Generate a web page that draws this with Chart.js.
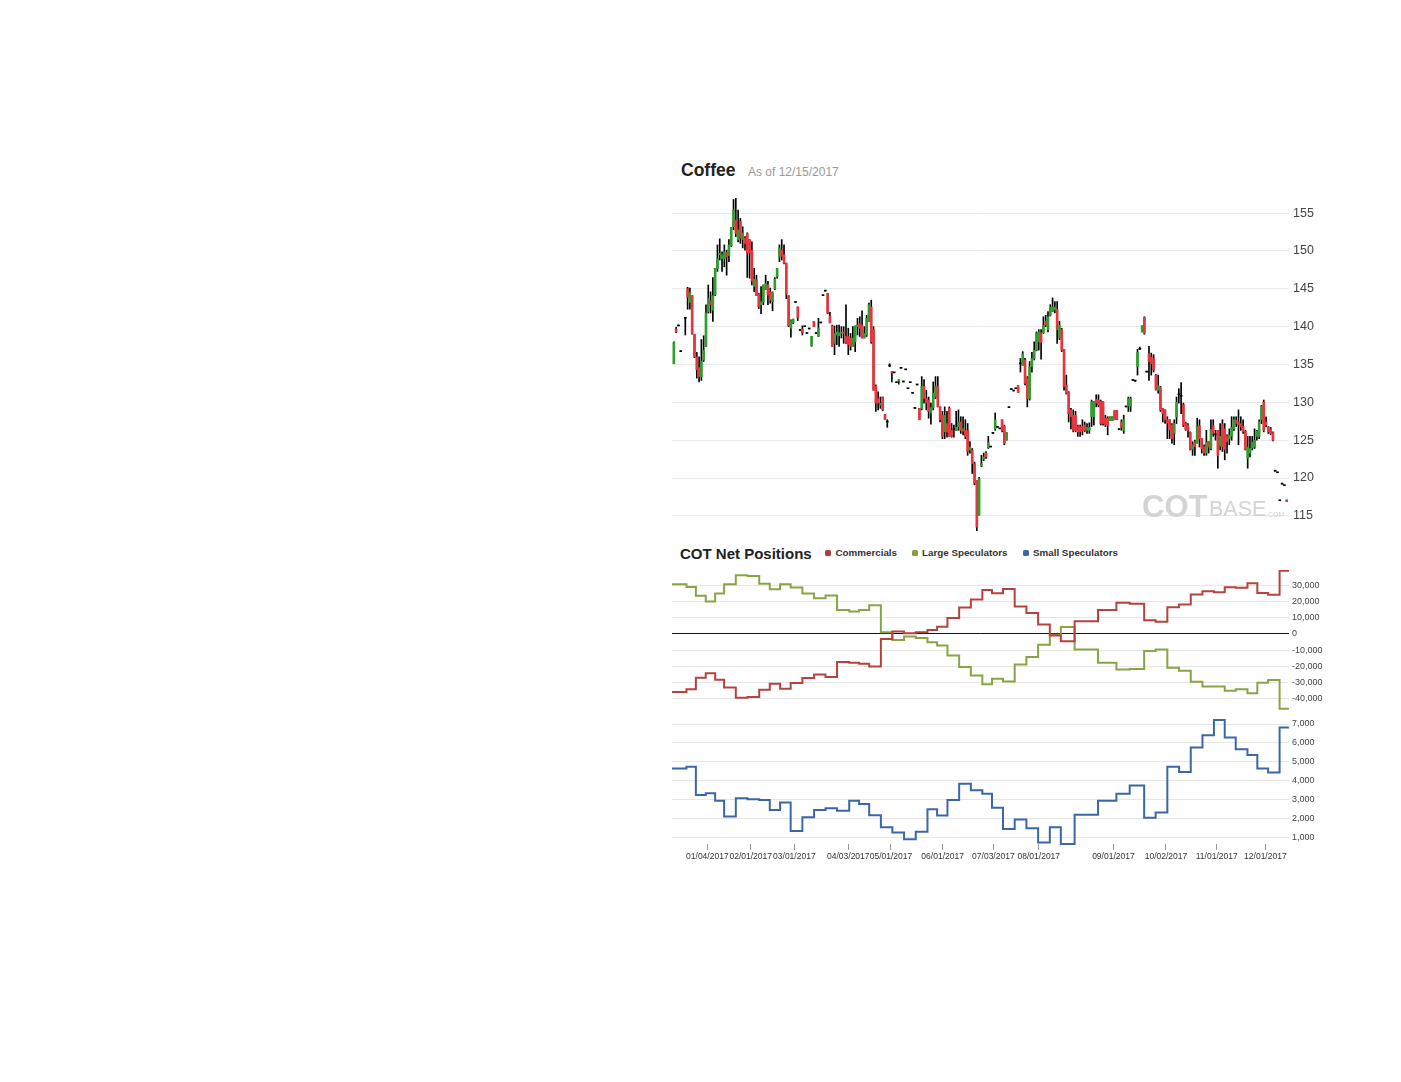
<!DOCTYPE html>
<html>
<head>
<meta charset="utf-8">
<title>Coffee - COT Net Positions</title>
<script src="https://cdn.jsdelivr.net/npm/chart.js@4.4.1/dist/chart.umd.min.js"></script>
<style>
  body { margin: 0; background: #fff; font-family: "Liberation Sans", Arial, sans-serif; }
  #page { position: relative; width: 1401px; height: 1082px; overflow: hidden; }
  .abs { position: absolute; white-space: nowrap; }
  .title { font-weight: bold; font-size: 17.5px; line-height: 17.5px; color: #222; }
  .asof { font-size: 12px; line-height: 12px; color: #999; }
  .subtitle { font-weight: bold; font-size: 15px; line-height: 15px; color: #222; }
  .legend { font-weight: bold; font-size: 9.8px; line-height: 9.8px; color: #333; }
  .swatch { width: 6px; height: 6px; border-radius: 1.5px; }
  .mark { color: #d4d4d4; }
</style>
</head>
<body>
<div id="page">
  <div class="abs title" style="left:681px; top:162px;">Coffee</div>
  <div class="abs asof" style="left:748px; top:166px;">As of 12/15/2017</div>

  <canvas id="priceChart" class="abs" width="660" height="333" style="left:672px; top:198px;"></canvas>

  <div class="abs mark" style="left:1142px; top:491px; font-weight:bold; font-size:31px; line-height:31px;">COT</div>
  <div class="abs mark" style="left:1209px; top:499px; font-size:21.5px; line-height:21.5px;">BASE</div>
  <div class="abs mark" style="left:1266px; top:511px; font-size:7px; line-height:7px;">.COM</div>

  <div class="abs subtitle" style="left:680px; top:546px;">COT Net Positions</div>
  <div class="abs swatch" style="left:825px; top:550px; background:#b03c3c;"></div>
  <div class="abs legend" style="left:835.5px; top:548.2px;">Commercials</div>
  <div class="abs swatch" style="left:911.5px; top:550px; background:#8a9e48;"></div>
  <div class="abs legend" style="left:922px; top:548.2px;">Large Speculators</div>
  <div class="abs swatch" style="left:1023px; top:550px; background:#3e68a6;"></div>
  <div class="abs legend" style="left:1033px; top:548.2px;">Small Speculators</div>

  <canvas id="cotChart" class="abs" width="660" height="140" style="left:672px; top:570px;"></canvas>
  <canvas id="smallChart" class="abs" width="660" height="145" style="left:672px; top:719px;"></canvas>
</div>

<script>
// daily coffee candles, one entry per trading day (null = no candle)
var candleOpen = [
  135.1, 139.7, 140.1, 136.7, null, 141.1, 145.0, 143.2, 144.1, 139.0,
  136.0, 134.6, 133.4, 135.6, 137.4, 142.0, 143.4, 142.2, 144.2, 147.7,
  149.5, 149.0, 149.0, 149.8, 149.4, 150.7, 153.2, 154.1, 151.5, 153.9,
  151.5, 151.7, 152.3, 151.5, 150.1, 145.3, 146.2, 144.3, 142.9, 143.3,
  144.9, 145.5, 144.6, 143.3, 145.0, 146.6, 149.2, 150.1, 149.5, 148.4,
  144.1, 139.8, 140.5, 143.2, 142.6, 139.5, 139.7, 140.0, 139.1, 139.7,
  137.5, 140.7, 139.1, 138.7, 140.5, 144.1, 144.7, 144.4, 141.4, 140.1,
  137.8, 138.9, 138.8, 139.1, 139.3, 138.7, 138.7, 138.5, 137.4, 138.0,
  140.0, 140.4, 140.2, 138.5, 138.9, 140.7, 142.6, 139.6, 132.1, 130.5,
  129.6, 130.7, 128.4, 127.4, 134.8, 134.1, 133.9, 132.6, 132.8, 134.5,
  132.7, 134.3, 131.8, 132.6, 131.2, 129.2, 132.3, 129.2, 129.2, 132.1,
  130.5, 130.3, 128.6, 129.3, 130.7, 132.1, 129.4, 128.3, 126.1, 127.2,
  129.2, 126.3, 126.4, 126.3, 126.8, 127.4, 126.2, 126.3, 126.3, 123.7,
  123.7, 121.9, 119.7, 115.1, 121.6, 122.5, 123.3, 124.0, 124.1, 125.9,
  126.5, 126.7, 126.5, 127.7, 126.8, 125.0, 129.3, 131.7, 131.5, 131.8,
  132.2, 135.1, 134.9, 135.6, 133.2, 130.5, 134.7, 135.8, 136.9, 138.0,
  139.2, 139.2, 140.7, 139.6, 141.5, 142.0, 142.2, 142.3, 138.5, 139.6,
  137.0, 132.3, 131.4, 129.0, 128.3, 128.3, 126.8, 126.8, 126.8, 127.0,
  126.3, 126.3, 128.1, 128.1, 130.4, 130.3, 130.1, 130.1, 127.9, 127.9,
  127.6, 127.6, 128.9, 128.9, 126.4, 127.4, 126.3, 129.4, 129.5, 129.5,
  132.9, 132.8, 134.7, 137.0, 139.3, 141.2, 134.0, 136.4, 136.0, 135.8,
  133.6, 131.6, 132.0, 129.2, 129.0, 127.7, 127.7, 127.0, 125.9, 128.1,
  131.0, 130.8, 129.7, 127.2, 127.0, 126.0, 123.8, 124.8, 124.6, 126.9,
  125.2, 124.1, 123.3, 124.8, 123.9, 126.9, 125.7, 126.3, 124.2, 127.1,
  126.5, 125.5, 125.2, 125.5, 126.5, 127.6, 127.4, 127.2, 126.8, 126.2,
  122.6, 123.3, 124.0, 124.1, 125.5, 125.5, 127.7, 130.0, 127.4, 126.7,
  126.5, 126.0, 120.9, 120.7, 117.0, 119.2, 119.0, 117.1
];
var candleHigh = [
  138.0, 139.9, 140.2, 136.8, null, 141.1, 145.2, 145.1, 144.1, 139.0,
  136.6, 136.0, 138.3, 138.8, 142.9, 145.5, 144.6, 146.5, 147.7, 150.8,
  151.6, 149.9, 150.8, 150.1, 151.5, 153.1, 156.8, 157.0, 155.4, 154.3,
  153.2, 151.9, 152.4, 151.5, 151.2, 147.7, 146.8, 144.4, 145.3, 145.5,
  146.8, 146.0, 145.1, 144.6, 146.5, 147.7, 150.8, 151.5, 150.8, 148.4,
  144.1, 140.9, 141.0, 143.2, 142.6, 139.5, 140.1, 140.0, 139.1, 139.7,
  138.7, 140.7, 139.1, 141.1, 140.5, 144.1, 144.7, 144.4, 141.9, 140.2,
  140.1, 140.2, 140.2, 140.0, 140.0, 142.9, 139.8, 139.1, 140.0, 140.1,
  141.1, 141.3, 142.1, 140.0, 141.5, 143.1, 143.5, 140.0, 132.3, 131.4,
  130.7, 130.7, 128.4, 127.7, 135.1, 134.1, 133.9, 132.6, 133.0, 134.5,
  132.7, 134.3, 131.8, 132.6, 131.2, 129.2, 132.3, 129.2, 133.4, 133.0,
  131.6, 130.7, 129.9, 132.7, 133.4, 133.4, 129.4, 128.8, 129.4, 128.8,
  129.4, 127.2, 127.0, 128.8, 129.0, 128.1, 128.1, 127.7, 127.2, 124.8,
  123.9, 122.1, 119.7, 120.1, 123.0, 123.3, 123.5, 125.5, 124.1, 125.9,
  128.6, 126.7, 126.5, 127.7, 127.0, 126.0, 129.3, 131.7, 131.5, 131.8,
  132.2, 135.8, 136.7, 135.8, 133.4, 135.4, 136.6, 138.0, 139.3, 139.6,
  139.6, 141.3, 141.5, 142.0, 142.9, 143.8, 143.3, 143.3, 140.7, 139.8,
  137.0, 133.6, 131.4, 129.2, 129.0, 128.8, 127.0, 127.0, 127.7, 127.4,
  127.2, 127.3, 130.3, 130.1, 131.0, 131.0, 130.3, 130.1, 128.3, 128.1,
  128.1, 128.1, 128.9, 128.9, 126.4, 127.7, 128.3, 129.4, 130.7, 130.7,
  132.9, 132.8, 137.0, 137.3, 140.1, 141.3, 134.0, 137.4, 136.5, 136.3,
  133.7, 133.6, 132.1, 129.2, 129.0, 128.1, 127.7, 127.2, 127.7, 130.7,
  131.8, 132.6, 129.9, 127.4, 127.2, 126.1, 124.8, 125.0, 127.9, 127.7,
  125.2, 124.4, 126.3, 124.8, 127.7, 127.7, 126.3, 126.3, 127.2, 127.7,
  127.2, 125.7, 126.5, 128.1, 128.1, 128.1, 129.0, 128.1, 127.7, 126.3,
  125.5, 125.5, 125.5, 126.5, 126.3, 127.7, 129.6, 130.3, 128.1, 126.8,
  126.7, 126.1, 120.9, 120.7, 117.0, 119.2, 119.0, 117.1
];
var candleLow = [
  135.1, 139.2, 140.1, 136.7, null, 138.9, 142.3, 142.3, 139.0, 135.9,
  133.2, 132.7, 132.9, 135.4, 137.4, 141.8, 141.8, 140.7, 144.1, 147.3,
  148.8, 147.3, 147.9, 146.8, 148.6, 150.6, 152.8, 151.9, 151.2, 151.0,
  150.4, 150.1, 146.5, 146.4, 145.5, 144.6, 144.1, 142.4, 141.7, 142.9,
  144.9, 142.9, 143.1, 142.1, 144.9, 146.4, 148.6, 148.8, 148.3, 143.7,
  140.0, 138.6, 140.4, 143.2, 140.8, 139.5, 138.9, 140.0, 139.1, 139.7,
  137.4, 140.0, 139.1, 138.7, 140.5, 144.1, 144.7, 141.7, 140.5, 137.4,
  136.3, 137.6, 137.4, 138.5, 137.8, 137.8, 136.3, 136.9, 137.4, 136.7,
  138.9, 138.7, 138.5, 138.5, 138.7, 140.7, 137.8, 131.6, 128.8, 129.0,
  129.2, 128.9, 127.7, 126.7, 134.7, 132.7, 133.9, 132.6, 132.4, 134.5,
  132.7, 134.3, 131.8, 132.6, 131.2, 129.2, 132.3, 127.7, 129.0, 129.9,
  129.0, 127.9, 127.1, 129.0, 130.5, 129.4, 127.4, 125.2, 125.2, 125.4,
  125.5, 125.4, 125.4, 126.3, 126.3, 125.9, 125.7, 125.2, 123.0, 123.3,
  120.6, 119.1, 112.9, 115.1, 121.5, 122.3, 122.6, 123.9, 124.1, 125.9,
  126.3, 126.7, 126.5, 126.1, 124.4, 125.0, 129.3, 131.7, 131.5, 131.8,
  131.3, 134.0, 134.9, 132.3, 129.4, 130.3, 134.0, 135.6, 136.8, 136.9,
  135.7, 139.1, 140.0, 139.3, 141.4, 142.0, 141.8, 137.8, 138.3, 136.7,
  131.6, 131.1, 127.4, 126.5, 126.1, 126.1, 125.5, 125.5, 125.7, 126.1,
  125.9, 125.9, 126.8, 127.0, 129.4, 129.4, 127.0, 127.0, 126.8, 125.7,
  127.6, 127.6, 127.7, 127.7, 126.4, 126.3, 125.9, 129.4, 128.8, 128.8,
  132.9, 132.8, 133.6, 137.0, 139.3, 139.0, 134.0, 132.9, 133.6, 134.0,
  131.6, 131.2, 128.8, 127.4, 127.2, 125.2, 125.2, 124.6, 124.4, 127.2,
  129.9, 128.5, 126.8, 126.3, 125.4, 123.7, 123.0, 123.0, 124.6, 124.1,
  123.3, 123.0, 123.0, 123.3, 123.7, 125.5, 125.0, 121.3, 123.7, 123.5,
  122.4, 123.3, 124.4, 125.0, 126.3, 126.8, 124.4, 126.3, 125.9, 123.7,
  121.3, 122.8, 123.7, 123.9, 125.0, 125.2, 127.2, 126.1, 126.8, 125.9,
  125.7, 124.9, 120.9, 120.7, 117.0, 119.2, 119.0, 116.9
];
var candleClose = [
  137.9, 139.3, 140.1, 136.7, null, 141.1, 143.9, 144.5, 139.1, 136.0,
  134.3, 133.4, 135.4, 136.9, 141.8, 143.7, 142.9, 144.1, 147.7, 149.0,
  149.7, 149.5, 149.9, 149.2, 150.8, 153.1, 155.4, 152.3, 152.8, 151.7,
  152.4, 151.0, 149.7, 149.7, 146.0, 146.3, 144.1, 142.6, 143.3, 145.5,
  145.7, 144.2, 143.5, 144.5, 146.3, 147.7, 150.4, 149.3, 148.4, 144.3,
  140.1, 140.8, 141.0, 143.2, 141.2, 139.5, 139.2, 140.0, 139.1, 139.7,
  138.7, 140.0, 139.1, 139.8, 140.5, 144.1, 144.7, 141.8, 140.5, 137.4,
  139.1, 139.3, 139.2, 139.3, 139.1, 137.9, 137.6, 137.4, 138.5, 140.1,
  140.2, 139.8, 138.5, 139.1, 141.1, 142.9, 138.0, 131.6, 129.9, 129.9,
  129.9, 129.0, 127.7, 127.4, 134.8, 133.9, 133.9, 132.6, 133.0, 134.5,
  132.7, 134.3, 131.8, 132.6, 131.2, 129.2, 132.3, 127.7, 132.1, 130.5,
  129.9, 128.8, 129.3, 131.2, 132.1, 129.4, 127.7, 125.5, 128.3, 126.1,
  125.5, 125.5, 126.4, 126.7, 127.4, 126.3, 126.5, 125.5, 123.5, 124.1,
  121.9, 119.3, 113.5, 119.9, 121.9, 122.8, 122.8, 124.7, 124.1, 125.9,
  127.7, 126.7, 126.5, 126.3, 124.6, 126.0, 129.3, 131.7, 131.5, 131.8,
  131.3, 135.1, 136.4, 132.5, 130.5, 134.7, 135.8, 136.9, 139.1, 139.3,
  137.9, 140.2, 140.2, 141.3, 142.6, 142.6, 142.6, 139.6, 140.2, 136.9,
  132.1, 131.2, 128.5, 128.1, 126.3, 126.3, 126.1, 126.1, 126.2, 126.3,
  126.7, 126.7, 130.1, 130.0, 129.9, 129.6, 127.2, 127.2, 127.0, 127.0,
  128.1, 128.1, 127.7, 127.7, 126.4, 126.7, 127.7, 129.4, 130.5, 130.5,
  132.9, 132.8, 136.6, 137.0, 140.1, 139.1, 134.0, 135.4, 135.1, 134.3,
  131.7, 132.2, 129.0, 128.5, 127.7, 127.3, 126.3, 125.2, 127.2, 130.0,
  131.0, 130.8, 127.0, 126.4, 126.3, 123.8, 124.4, 124.1, 126.8, 125.2,
  123.9, 123.3, 124.7, 124.1, 126.4, 125.9, 125.7, 123.0, 125.5, 124.1,
  123.8, 124.8, 125.7, 126.7, 127.7, 127.2, 127.0, 126.8, 126.1, 123.8,
  124.1, 123.9, 124.7, 125.0, 126.2, 127.4, 129.5, 126.3, 127.0, 126.1,
  125.9, 125.0, 120.9, 120.7, 117.0, 119.2, 119.0, 116.9
];
var priceTicks = [115, 120, 125, 130, 135, 140, 145, 150, 155];

// weekly COT reports, x = trading day index where the report value starts
var cotWeek = [
  -0.8, 5.5, 9.6, 13.9, 18.0, 21.9, 27.0, 32.1, 37.2, 41.8,
  46.3, 50.9, 56.0, 61.1, 66.1, 71.1, 76.4, 80.7, 85.1, 90.2,
  95.2, 100.3, 105.4, 110.5, 114.7, 119.2, 124.3, 129.4, 134.4, 138.6,
  143.4, 148.5, 153.6, 158.7, 163.8, 168.6, 174.6, 184.8, 192.8, 198.6,
  204.9, 209.9, 215.0, 220.1, 225.2, 230.3, 235.3, 240.0, 244.8, 249.9,
  254.2, 258.9, 263.9, 268
];
var commercials = [
  -35700, -34100, -26900, -24100, -28200, -33000, -39200, -38800, -34300, -30600,
  -33700, -30200, -27100, -24900, -26500, -17300, -17700, -18400, -20000, -3100,
  1600, 400, 1000, 2400, 4500, 9800, 16300, 21200, 27100, 25100,
  27700, 16900, 12900, 5900, -1000, -4500, 7800, 14700, 19200, 18600,
  8400, 7500, 16500, 18200, 24300, 26300, 25700, 28800, 28400, 31200,
  25300, 24100, 39000, 39000
];
var largeSpecs = [
  30600, 29000, 23500, 20000, 24900, 30600, 36100, 35700, 31000, 27500,
  30600, 28600, 24900, 22000, 23700, 14700, 13900, 14700, 17700, 1000,
  -3700, -1600, -2400, -5100, -7100, -13300, -20400, -25500, -31000, -27500,
  -29200, -18800, -14100, -6700, -400, 4300, -9600, -17700, -21800, -21600,
  -10400, -9600, -20800, -22600, -29400, -32400, -32400, -34900, -34100, -36500,
  -30000, -28400, -46100, -46100
];
var smallSpecs = [
  4650, 4740, 3240, 3330, 2940, 2100, 3070, 3010, 2980, 2450,
  2840, 1340, 2060, 2450, 2540, 2410, 2930, 2770, 2170, 1530,
  1250, 900, 1290, 2480, 2150, 2980, 3830, 3490, 3300, 2560,
  1440, 1940, 1480, 720, 1530, 650, 2190, 2940, 3300, 3740,
  2040, 2310, 4740, 4460, 5750, 6400, 7210, 6290, 5660, 5360,
  4640, 4430, 6820, 6820
];
var cotTicks = [-40000, -30000, -20000, -10000, 0, 10000, 20000, 30000];
var smallTicks = [1000, 2000, 3000, 4000, 5000, 6000, 7000];

// month labels along the bottom axis
var monthTicks = [14.6, 33.5, 52.5, 76, 94.6, 117.1, 139.2, 159, 191.5, 214.4, 236.5, 257.7];
var monthLabels = ["01/04/2017", "02/01/2017", "03/01/2017", "04/03/2017", "05/01/2017", "06/01/2017",
  "07/03/2017", "08/01/2017", "09/01/2017", "10/02/2017", "11/01/2017", "12/01/2017"];

var xMin = -0.8;
var xMax = 268;
var upColor = "#2f9e2f";
var downColor = "#e8343c";

Chart.defaults.font.family = '"Liberation Sans", Arial, sans-serif';
Chart.defaults.color = "#444";

var wickData = [];
var bodyData = [];
var bodyColors = [];
candleOpen.forEach(function(o, i) {
  if (o === null) return;
  var c = candleClose[i];
  wickData.push({ x: i, y: [candleLow[i], candleHigh[i]] });
  bodyData.push({ x: i, y: [o, c] });
  bodyColors.push(c > o ? upColor : c < o ? downColor : "#000");
});

var stepSeries = function(values) {
  return cotWeek.map(function(x, i) {
    return { x: x, y: values[i] };
  });
};

// y axis on the right, same width on every panel so plots line up
var fixRightAxis = function(scale) {
  scale.width = 43;
  scale.paddingTop = 0;
  scale.paddingBottom = 0;
};

var setTicks = function(list) {
  return function(scale) {
    scale.ticks = list.map(function(v) { return { value: v }; });
  };
};

var fmt = function(v) {
  return v.toLocaleString("en-US");
};

var hiddenX = { type: "linear", min: xMin, max: xMax, offset: false, display: false };
var noPlugins = { legend: { display: false }, tooltip: { enabled: false } };

var priceChart = new Chart(document.getElementById("priceChart"), {
  type: "bar",
  data: {
    datasets: [
      {
        label: "Body",
        data: bodyData,
        backgroundColor: bodyColors,
        borderWidth: 0,
        barThickness: 2,
        minBarLength: 1,
        grouped: false,
        order: 0
      },
      {
        label: "Wick",
        data: wickData,
        backgroundColor: "#000",
        borderWidth: 0,
        barThickness: 1,
        grouped: false,
        order: 1
      }
    ]
  },
  options: {
    responsive: false,
    animation: false,
    plugins: noPlugins,
    layout: { padding: 0 },
    scales: {
      x: hiddenX,
      y: {
        position: "right",
        min: 113,
        max: 157,
        grid: { color: "#e9e9e9", drawTicks: false },
        border: { display: false },
        afterBuildTicks: setTicks(priceTicks),
        afterFit: fixRightAxis,
        ticks: { padding: 4, color: "#444", font: { size: 12.5 } }
      }
    }
  }
}); // end of price chart

var cotChart = new Chart(document.getElementById("cotChart"), {
  type: "line",
  data: {
    datasets: [
      {
        label: "Commercials",
        data: stepSeries(commercials),
        borderColor: "#b5423e",
        borderWidth: 2,
        pointRadius: 0,
        stepped: true,
        clip: 4
      },
      {
        label: "Large Speculators",
        data: stepSeries(largeSpecs),
        borderColor: "#87a545",
        borderWidth: 2,
        pointRadius: 0,
        stepped: true,
        clip: 4
      }
    ]
  },
  options: {
    responsive: false,
    animation: false,
    plugins: noPlugins,
    layout: { padding: 0 },
    scales: {
      x: hiddenX,
      y: {
        position: "right",
        min: -46800,
        max: 39400,
        grid: {
          drawTicks: false,
          color: function(ctx) {
            return ctx.tick && ctx.tick.value === 0 ? "#111" : "#e6e6e6";
          }
        },
        border: { display: false },
        afterBuildTicks: setTicks(cotTicks),
        afterFit: fixRightAxis,
        ticks: { padding: 3, color: "#444", font: { size: 9 }, callback: fmt }
      }
    }
  }
}); // end of commercials / large specs chart

var smallChart = new Chart(document.getElementById("smallChart"), {
  type: "line",
  data: {
    datasets: [
      {
        label: "Small Speculators",
        data: stepSeries(smallSpecs),
        borderColor: "#3b67a8",
        borderWidth: 2,
        pointRadius: 0,
        stepped: true,
        clip: 4
      }
    ]
  },
  options: {
    responsive: false,
    animation: false,
    plugins: noPlugins,
    layout: { padding: 0 },
    scales: {
      x: {
        type: "linear",
        min: xMin,
        max: xMax,
        offset: false,
        grid: { drawOnChartArea: false, drawTicks: true, tickLength: 6, color: "#999" },
        border: { display: false },
        afterBuildTicks: setTicks(monthTicks),
        afterFit: function(scale) {
          scale.height = 20;
          scale.paddingLeft = 0;
          scale.paddingRight = 0;
        },
        ticks: {
          autoSkip: false,
          maxRotation: 0,
          minRotation: 0,
          padding: 2,
          color: "#333",
          font: { size: 8.5 },
          callback: function(v, i) { return monthLabels[i]; }
        }
      },
      y: {
        position: "right",
        min: 645,
        max: 7265,
        grid: { color: "#e6e6e6", drawTicks: false },
        border: { display: false },
        afterBuildTicks: setTicks(smallTicks),
        afterFit: fixRightAxis,
        ticks: { padding: 3, color: "#444", font: { size: 9 }, callback: fmt }
      }
    }
  }
}); // end of small specs chart
</script>
</body>
</html>
